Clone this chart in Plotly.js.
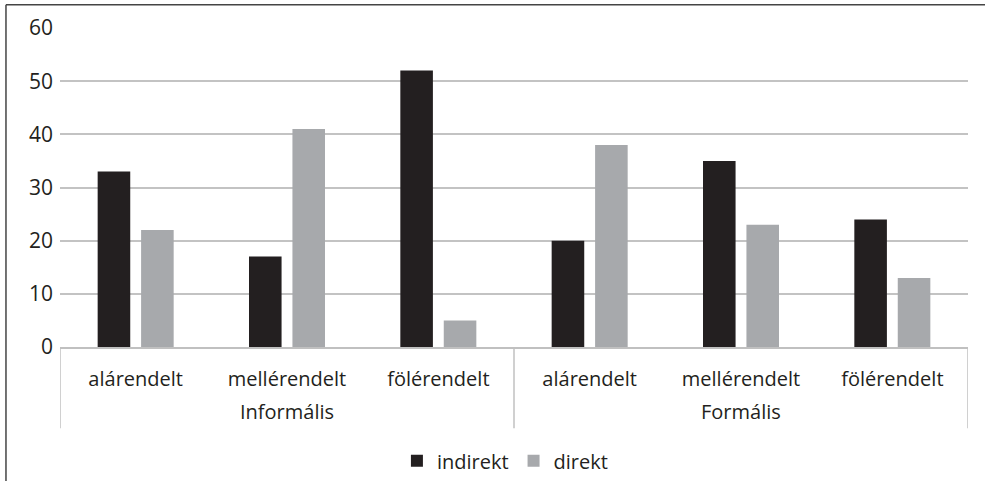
<!DOCTYPE html>
<html>
<head>
<meta charset="utf-8">
<script src="https://cdn.plot.ly/plotly-3.0.1.min.js"></script>
<style>
html,body{margin:0;padding:0;background:#fff;}
#chart{width:985px;height:481px;}
</style>
</head>
<body>
<div id="chart"></div>
<script>
var groups = ["Informális","Informális","Informális","Formális","Formális","Formális"];
var categories = ["alárendelt","mellérendelt","fölérendelt","alárendelt","mellérendelt","fölérendelt"];
var indirekt = [33, 17, 52, 20, 35, 24];
var direkt = [22, 41, 5, 38, 23, 13];
var seriesNames = ["indirekt","direkt"];
var yTicks = [0,10,20,30,40,50,60];

var fontFam = "'Open Sans', sans-serif";
var textCol = "#231f20";
var divCol = "#c0c0c0";

// unique keys for each (group, category) pair
var keys = categories.map(function(c, i){ return groups[i] + " | " + c; });

// group spans (first and last index of each group)
var spans = [];
groups.forEach(function(g, i){
  if (!spans.length || spans[spans.length-1].name !== g) spans.push({name:g, first:i, last:i});
  else spans[spans.length-1].last = i;
});

var traces = [
  {type:"bar", name:seriesNames[0], x:keys, y:indirekt, marker:{color:"#231f20"}},
  {type:"bar", name:seriesNames[1], x:keys, y:direkt, marker:{color:"#a7a9ac"}}
];

var annotations = spans.map(function(s){
  return {xref:"x", yref:"paper", x:(s.first + s.last)/2, y:-0.2016, yanchor:"middle",
          xanchor:"center", showarrow:false, text:s.name,
          font:{family:fontFam, size:20, color:textCol}};
});

var shapes = [
  {type:"line", xref:"paper", yref:"paper", x0:-0.0595, x1:1.1, y0:1.073, y1:1.073,
   line:{color:"#444", width:1.5}},
  {type:"line", xref:"paper", yref:"paper", x0:-0.0595, x1:-0.0595, y0:1.073, y1:-0.5,
   line:{color:"#444", width:1.5}}
];
var bounds = [spans[0].first - 0.5];
spans.forEach(function(s){ bounds.push(s.last + 0.5); });
bounds.forEach(function(b){
  shapes.push({type:"line", xref:"x", yref:"paper", x0:b, x1:b, y0:0, y1:-0.255,
               line:{color:divCol, width:1.5}});
});

var layout = {
  width:985, height:481,
  margin:{l:60, r:17, t:27.5, b:133.5, autoexpand:false},
  paper_bgcolor:"#fff", plot_bgcolor:"#fff",
  font:{family:fontFam, size:20, color:textCol},
  barmode:"group", bargap:0.426, bargroupgap:0.25,
  xaxis:{type:"category", tickvals:keys, ticktext:categories, showgrid:false,
         showline:true, linecolor:divCol, linewidth:1.5, ticks:"", ticklabelstandoff:13,
         range:[-0.5, keys.length - 0.5],
         tickfont:{family:fontFam, size:20, color:textCol}},
  yaxis:{range:[0,60], tickvals:yTicks, showgrid:true, gridcolor:"#c3c3c3", gridwidth:1.5,
         zeroline:false, showline:false, ticks:"", ticklabelstandoff:6,
         tickfont:{family:fontFam, size:21, color:textCol}},
  showlegend:true,
  legend:{orientation:"h", x:0.49, xanchor:"center", yref:"container", y:0.042, yanchor:"middle",
          font:{family:fontFam, size:20, color:textCol}, traceorder:"normal"},
  annotations:annotations,
  shapes:shapes
};

Plotly.newPlot("chart", traces, layout, {displayModeBar:false});
</script>
</body>
</html>
